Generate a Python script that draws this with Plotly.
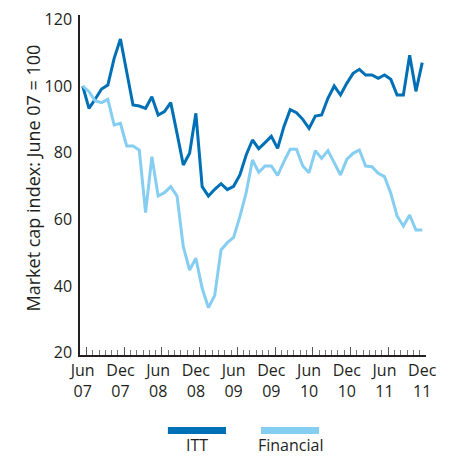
import plotly.graph_objects as go

months = list(range(55))  # Jun 07 .. Dec 11, monthly
tick_positions = [0, 6, 12, 18, 24, 30, 36, 42, 48, 54]
tick_labels = ["Jun<br>07", "Dec<br>07", "Jun<br>08", "Dec<br>08", "Jun<br>09",
               "Dec<br>09", "Jun<br>10", "Dec<br>10", "Jun<br>11", "Dec<br>11"]

itt = [100, 93.3, 96.1, 99.1, 100.3, 108.3, 114.1, 104, 94.3, 94.0,
       93.3, 96.8, 91.3, 92.3, 95.0, 85.8, 76.3, 79.8, 91.8, 69.8,
       67.0, 69.0, 70.7, 68.9, 69.9, 73.3, 79.3, 83.8, 81.2, 83.0,
       84.9, 81.3, 87.8, 92.9, 92.0, 90.0, 87.3, 91.0, 91.3, 96.3,
       100.0, 97.3, 100.8, 103.8, 105.0, 103.3, 103.3, 102.3, 103.3, 102.0,
       97.3, 97.3, 109.2, 98.4, 107.0]

financial = [100, 98.3, 95.5, 95.0, 96.0, 88.3, 88.8, 82.0, 82.0, 80.8,
             62.0, 78.8, 67.0, 68.0, 69.8, 67.0, 51.8, 44.8, 48.3, 39.3,
             33.5, 37.2, 50.8, 53.0, 54.6, 60.8, 68.0, 77.8, 74.1, 76.0,
             76.0, 73.2, 77.3, 81.0, 81.0, 76.0, 74.0, 80.6, 78.3, 80.6,
             77.0, 73.3, 78.0, 79.8, 80.8, 76.0, 75.8, 73.8, 72.8, 67.8,
             61.0, 58.0, 61.3, 56.8, 56.8]

series_names = ["ITT", "Financial"]
y_title = "Market cap index: June 07 = 100"
y_ticks = [20, 40, 60, 80, 100, 120]

DARK = "#0070B6"
LIGHT = "#86CEF1"
TEXT = "#231F20"
FONT = "Open Sans, sans-serif"
x_range = [-0.43, 54.6]

fig = go.Figure()
fig.add_trace(go.Scatter(x=months, y=itt, mode="lines", name=series_names[0],
                         line=dict(color=DARK, width=3), showlegend=False))
fig.add_trace(go.Scatter(x=months, y=financial, mode="lines", name=series_names[1],
                         line=dict(color=LIGHT, width=3), showlegend=False,
                         xaxis="x2"))

fig.update_layout(
    width=452, height=457,
    margin=dict(l=80, r=26, t=15, b=102),
    paper_bgcolor="white", plot_bgcolor="white",
    font=dict(family=FONT, size=16, color=TEXT),
    xaxis=dict(range=x_range, tickmode="array", tickvals=tick_positions,
               ticktext=tick_labels, ticks="", showline=True, linecolor=TEXT,
               linewidth=1.5, showgrid=False, zeroline=False, automargin=False,
               tickfont=dict(size=16, color=TEXT)),
    xaxis2=dict(range=x_range, overlaying="x", side="bottom", anchor="y",
                tickmode="array", tickvals=[p + 0.6 for p in tick_positions],
                ticks="inside", ticklen=8, tickwidth=1, tickcolor="#555",
                showticklabels=False, showgrid=False, zeroline=False, showline=False,
                automargin=False,
                minor=dict(ticks="inside", ticklen=5, tickwidth=1, tickcolor="#777",
                           tick0=0.6, dtick=1, showgrid=False)),
    yaxis=dict(range=[19.3, 121.3], tickmode="array", tickvals=y_ticks,
               ticks="", showline=True, linecolor=TEXT, linewidth=1.5,
               showgrid=False, zeroline=False, ticklabelstandoff=3, automargin=False,
               tickfont=dict(size=16, color=TEXT)),
)

fig.add_annotation(text=y_title, xref="paper", yref="paper", x=-0.136, y=0.522,
                   textangle=-90, showarrow=False, xanchor="center", yanchor="middle",
                   font=dict(family=FONT, size=18, color=TEXT))

legend_items = [(series_names[0], DARK, 0.254, 0.422), (series_names[1], LIGHT, 0.523, 0.691)]
for name, color, x0, x1 in legend_items:
    fig.add_shape(type="rect", xref="paper", yref="paper", x0=x0, x1=x1,
                  y0=-0.232, y1=-0.212, fillcolor=color, line=dict(width=0))
    fig.add_annotation(text=name, xref="paper", yref="paper", x=(x0 + x1) / 2,
                       y=-0.299, showarrow=False, xanchor="center", yanchor="bottom",
                       borderpad=0, font=dict(family=FONT, size=16, color=TEXT))

fig.write_html("out.html", config={"displayModeBar": False},
               post_script="document.body.style.margin='0';")
